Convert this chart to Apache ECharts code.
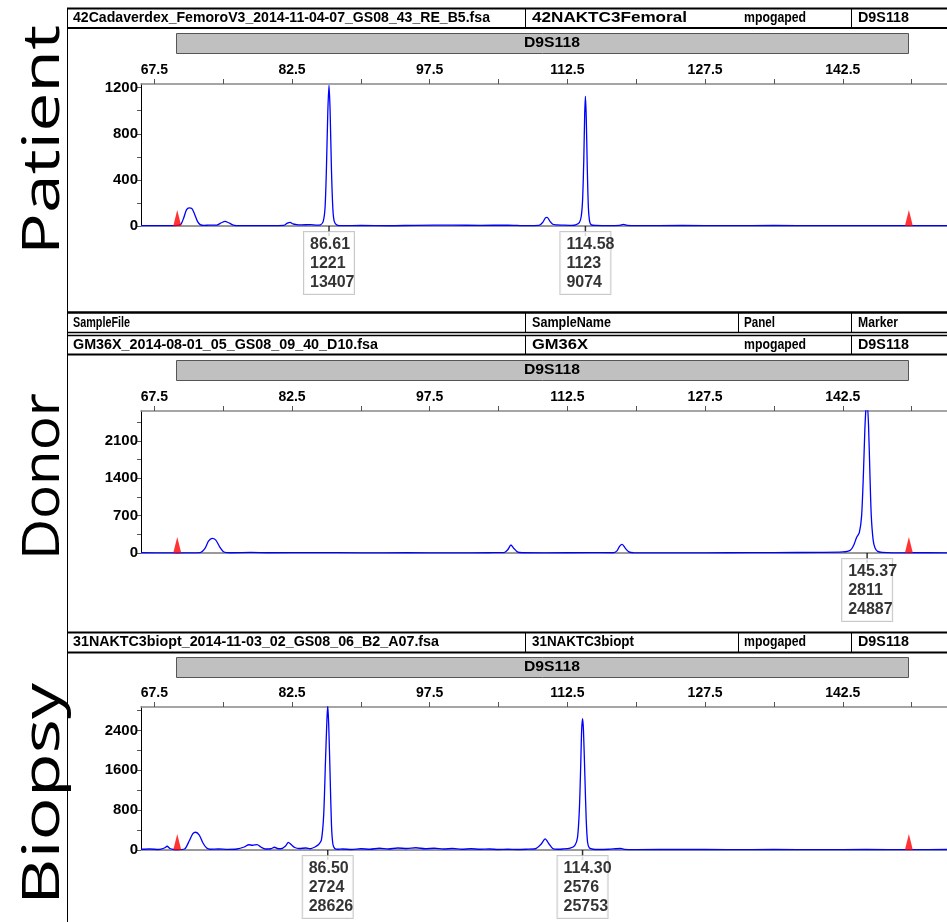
<!DOCTYPE html>
<html><head><meta charset="utf-8">
<script src="https://cdn.jsdelivr.net/npm/echarts@6/dist/echarts.min.js"></script>
<style>html,body{margin:0;padding:0;background:#fff}#c{width:947px;height:922px}</style>
</head><body><div id="c"></div>
<script>
// ---------------- DATA ----------------
const panelNames = ['Patient', 'Donor', 'Biopsy'];
const markerName = 'D9S118';
const headerTitles = ['SampleFile', 'SampleName', 'Panel', 'Marker'];
const patientHeader = ['42Cadaverdex_FemoroV3_2014-11-04-07_GS08_43_RE_B5.fsa', '42NAKTC3Femoral', 'mpogaped', 'D9S118'];
const donorHeader = ['GM36X_2014-08-01_05_GS08_09_40_D10.fsa', 'GM36X', 'mpogaped', 'D9S118'];
const biopsyHeader = ['31NAKTC3biopt_2014-11-03_02_GS08_06_B2_A07.fsa', '31NAKTC3biopt', 'mpogaped', 'D9S118'];

const xTickLabels = [67.5, 82.5, 97.5, 112.5, 127.5, 142.5];
const xTicks = [67.5, 75, 82.5, 90, 97.5, 105, 112.5, 120, 127.5, 135, 142.5, 150];

const patientYLabels = [0, 400, 800, 1200];
const patientYTicks = [0, 200, 400, 600, 800, 1000, 1200];
const donorYLabels = [0, 700, 1400, 2100];
const donorYTicks = [0, 350, 700, 1050, 1400, 1750, 2100, 2450];
const biopsyYLabels = [0, 800, 1600, 2400];
const biopsyYTicks = [0, 400, 800, 1200, 1600, 2000, 2400, 2800];

const binMarkers = [70.0, 149.7];

const patientSize = [66.05, 68, 69.5, 70.0, 70.4, 70.7, 71.0, 71.3, 71.6, 71.9, 72.2, 72.5, 72.9, 73.5, 74.3, 74.8, 75.2, 75.6, 76.1, 76.8, 78, 80, 81.6, 82.0, 82.3, 82.6, 83.0, 83.5, 84.5, 85.2, 85.6, 85.9, 86.1, 86.25, 86.4, 86.53, 86.65, 86.8, 86.95, 87.1, 87.4, 88, 90, 93, 96, 100, 103, 106, 108, 109.4, 109.8, 110.1, 110.3, 110.6, 110.9, 111.3, 112, 113, 113.4, 113.8, 114.0, 114.15, 114.28, 114.38, 114.46, 114.55, 114.66, 114.78, 114.92, 115.1, 115.6, 117, 118.2, 118.6, 119, 120, 125, 130, 135, 140, 145, 150, 153.85];
const patientRFU  = [3, 4, 3, 5, 15, 70, 140, 158, 150, 100, 40, 12, 5, 8, 8, 28, 40, 28, 8, 3, 4, 3, 5, 25, 32, 18, 12, 10, 12, 8, 10, 40, 160, 500, 990, 1221, 1000, 480, 150, 40, 8, 3, 5, 2, 6, 8, 5, 8, 3, 5, 30, 70, 75, 40, 15, 10, 8, 6, 10, 30, 80, 220, 560, 960, 1125, 950, 520, 170, 40, 10, 5, 3, 6, 14, 6, 3, 5, 3, 5, 3, 4, 3, 3];

const donorSize = [66.05, 69, 70, 71, 72.5, 73.0, 73.4, 73.8, 74.2, 74.6, 75.0, 75.4, 76, 78, 80, 85, 90, 95, 100, 104, 105.6, 106.0, 106.35, 106.7, 107.1, 107.6, 110, 115, 117.5, 117.9, 118.2, 118.47, 118.8, 119.2, 119.7, 125, 130, 135, 140, 142.5, 143.3, 143.7, 144.0, 144.3, 144.55, 144.75, 144.9, 145.05, 145.15, 145.3, 145.45, 145.6, 145.8, 146.0, 146.3, 146.8, 148, 150, 153.85];
const donorRFU  = [5, 3, 0, 3, 8, 80, 220, 272, 240, 120, 30, 8, 5, 10, 5, 8, 3, 5, 2, 5, 8, 60, 150, 80, 15, 5, 3, 6, 5, 40, 130, 162, 90, 20, 5, 3, 5, 8, 12, 20, 50, 150, 290, 380, 700, 1500, 2300, 2780, 2811, 2400, 1500, 700, 250, 100, 30, 10, 3, 5, 3];

const biopsySize = [66.05, 67, 68, 68.6, 68.9, 69.2, 69.6, 70, 70.8, 71.3, 71.7, 72.0, 72.4, 72.8, 73.2, 73.6, 74.5, 75.5, 76.5, 77.3, 77.8, 78.2, 78.7, 79.1, 79.6, 80.2, 80.6, 80.9, 81.3, 81.8, 82.1, 82.4, 82.8, 83.3, 84, 84.5, 85.0, 85.4, 85.7, 85.95, 86.15, 86.3, 86.39, 86.5, 86.65, 86.8, 86.95, 87.15, 87.5, 88, 89, 90, 91, 92, 93, 94, 95, 96, 97, 98, 99, 100, 101, 102, 103, 104, 105, 106, 107, 108, 109, 109.6, 110.08, 110.5, 110.9, 111.4, 112, 112.8, 113.3, 113.6, 113.8, 113.95, 114.05, 114.15, 114.25, 114.4, 114.55, 114.7, 114.9, 115.3, 116, 117, 118.3, 118.7, 120, 125, 130, 135, 140, 145, 150, 153.85];
const biopsyRFU  = [15, 20, 10, 40, 75, 30, 10, 5, 20, 180, 330, 356, 300, 140, 40, 15, 20, 12, 20, 60, 105, 95, 108, 60, 20, 25, 55, 30, 25, 80, 155, 110, 50, 30, 40, 25, 60, 110, 200, 700, 1800, 2600, 2900, 2500, 1500, 500, 120, 30, 15, 20, 10, 25, 15, 35, 20, 40, 30, 45, 25, 35, 20, 30, 15, 25, 15, 20, 10, 15, 10, 15, 25, 110, 222, 120, 30, 15, 20, 40, 90, 250, 800, 1700, 2400, 2634, 2400, 1500, 600, 150, 40, 15, 10, 15, 30, 12, 8, 12, 8, 10, 8, 10, 8, 10];

const patientPeaks = [86.53, 114.46];
const patientPeakText = [['86.61', '1221', '13407'], ['114.58', '1123', '9074']];
const donorPeaks = [145.15];
const donorPeakText = [['145.37', '2811', '24887']];
const biopsyPeaks = [86.39, 114.15];
const biopsyPeakText = [['86.50', '2724', '28626'], ['114.30', '2576', '25753']];

// ---------------- LAYOUT / STYLE ----------------
const FN = '"Liberation Sans Narrow", "Liberation Sans", Arial, sans-serif';
const X_MIN = 66.05, X_MAX = 153.85;
const panels = [
  { top: 84, height: 142, yMax: 1232, ticks: patientYTicks, labels: patientYLabels, x: patientSize, y: patientRFU, peaks: patientPeaks, ptxt: patientPeakText },
  { top: 411, height: 142, yMax: 2657, ticks: donorYTicks, labels: donorYLabels, x: donorSize, y: donorRFU, peaks: donorPeaks, ptxt: donorPeakText },
  { top: 707, height: 143, yMax: 2870, ticks: biopsyYTicks, labels: biopsyYLabels, x: biopsySize, y: biopsyRFU, peaks: biopsyPeaks, ptxt: biopsyPeakText }
];

const grids = [], xAxes = [], yAxes = [], series = [];
panels.forEach((p, i) => {
  grids.push({ left: 141, top: p.top, width: 806, height: p.height });
  xAxes.push({
    type: 'value', gridIndex: i, position: 'top', min: X_MIN, max: X_MAX,
    axisLine: { show: true, onZero: false, lineStyle: { color: '#888', width: 1.5 } },
    axisTick: { show: true, customValues: xTicks, length: 5, lineStyle: { color: '#555' } },
    axisLabel: { customValues: xTickLabels, formatter: v => Number(v).toFixed(1), margin: 7,
      color: '#000', fontFamily: FN, fontWeight: 'bold', fontSize: 14 },
    splitLine: { show: false }
  });
  yAxes.push({
    type: 'value', gridIndex: i, min: 0, max: p.yMax,
    axisLine: { show: true, lineStyle: { color: '#000', width: 1 } },
    axisTick: { show: true, customValues: p.ticks, length: 4, lineStyle: { color: '#555' } },
    axisLabel: { customValues: p.labels, formatter: v => String(v), margin: 3, color: '#000', fontFamily: FN, fontWeight: 'bold', fontSize: 15 },
    splitLine: { show: false }
  });
  series.push({
    type: 'line', xAxisIndex: i, yAxisIndex: i, showSymbol: false, smooth: 0.25, clip: true,
    data: p.x.map((v, k) => [v, p.y[k]]),
    lineStyle: { color: '#0000ff', width: 1.3 }, z: 3,
    markLine: { silent: true, symbol: ['none', 'none'], label: { show: false },
      lineStyle: { color: '#999', width: 2, type: 'solid' }, data: [{ yAxis: 0 }], z: 2 }
  });
  series.push({
    type: 'scatter', xAxisIndex: i, yAxisIndex: i, clip: false, z: 5, silent: true,
    symbol: 'triangle', symbolSize: [8, 16], symbolOffset: [0, -8],
    itemStyle: { color: '#ff0000' },
    data: binMarkers.map(v => [v, 0])
  });
  series.push({
    type: 'scatter', xAxisIndex: i, yAxisIndex: i, clip: false, z: 4, silent: true,
    symbol: 'rect', symbolSize: [1.5, 10], symbolOffset: [0, 5],
    itemStyle: { color: '#000' },
    data: p.peaks.map((v, k) => ({ value: [v, 0], label: { formatter: p.ptxt[k].join('\n') } })),
    label: { show: true, position: 'bottom', distance: -4, align: 'left', offset: [-25, 0],
      color: '#000', fontFamily: FN, fontWeight: 'bold', fontSize: 16, lineHeight: 19,
      backgroundColor: '#fff', borderColor: '#bbb', borderWidth: 1, padding: [3, 4, 2, 6], width: 40 }
  });
});

// ---------- graphic: headers, bars, big labels ----------
const mctx = document.createElement('canvas').getContext('2d');
const HFONT = 'bold 14px "Liberation Sans", Arial, sans-serif';
function fitText(txt, x, y, w, align) {
  mctx.font = HFONT;
  const s = w / mctx.measureText(txt).width;
  return { type: 'text', x: x, y: y, scaleX: s, z: 10,
    style: { text: txt, font: HFONT, fill: '#000', align: align || 'left', verticalAlign: 'middle' } };
}
function hl(y, w) { return { type: 'line', z: 10, shape: { x1: 67, y1: y, x2: 947, y2: y }, style: { stroke: '#000', lineWidth: w } }; }
function vl(x, y1, y2) { return { type: 'line', z: 10, shape: { x1: x, y1: y1, x2: x, y2: y2 }, style: { stroke: '#000', lineWidth: 1 } }; }
const colX = [73, 532, 744, 858];
const g = [];
g.push(vl(67.5, 8, 922));
// patient header
g.push(hl(8.5, 2), hl(28, 2), vl(525.5, 8, 28), vl(851.5, 8, 28));
[417, 155, 62, 51].forEach((w, k) => g.push(fitText(patientHeader[k], colX[k], 18.5, w)));
// donor header
g.push(hl(312.5, 2.5), hl(332.5, 1.5), hl(335.5, 1.5), hl(354.5, 2));
g.push(vl(525.5, 312, 333), vl(738.5, 312, 333), vl(851.5, 312, 333), vl(525.5, 335, 354), vl(851.5, 335, 354));
[57, 79, 31, 40].forEach((w, k) => g.push(fitText(headerTitles[k], colX[k], 323, w)));
[305, 56, 62, 51].forEach((w, k) => g.push(fitText(donorHeader[k], colX[k], 345, w)));
// biopsy header
g.push(hl(632.5, 2), hl(652.5, 2), vl(525.5, 632, 652), vl(738.5, 632, 652), vl(851.5, 632, 652));
[366, 102, 62, 51].forEach((w, k) => g.push(fitText(biopsyHeader[k], colX[k], 642.5, w)));
// gray marker bars
[33, 360, 657].forEach(y => {
  g.push({ type: 'rect', z: 9, shape: { x: 176.5, y: y + 0.5, width: 732, height: 20 }, style: { fill: '#c0c0c0', stroke: '#555', lineWidth: 1 } });
  g.push(fitText(markerName, 552, y + 10.5, 56, 'center'));
});
// big side labels (stretched along the text direction)
const SFONT = '52px "Open Sans", sans-serif';
[[140, 230], [476.5, 167], [794, 222]].forEach((c, k) => {
  mctx.font = SFONT;
  const s = c[1] / mctx.measureText(panelNames[k]).width;
  g.push({ type: 'text', x: 44, y: c[0], rotation: Math.PI / 2, scaleX: s, z: 10,
    style: { text: panelNames[k], font: SFONT, fill: '#000', align: 'center', verticalAlign: 'middle' } });
});

const chart = echarts.init(document.getElementById('c'), null, { renderer: 'canvas' });
chart.setOption({
  animation: false,
  backgroundColor: '#fff',
  grid: grids, xAxis: xAxes, yAxis: yAxes, series: series,
  graphic: { elements: g }
});
</script>
</body></html>
